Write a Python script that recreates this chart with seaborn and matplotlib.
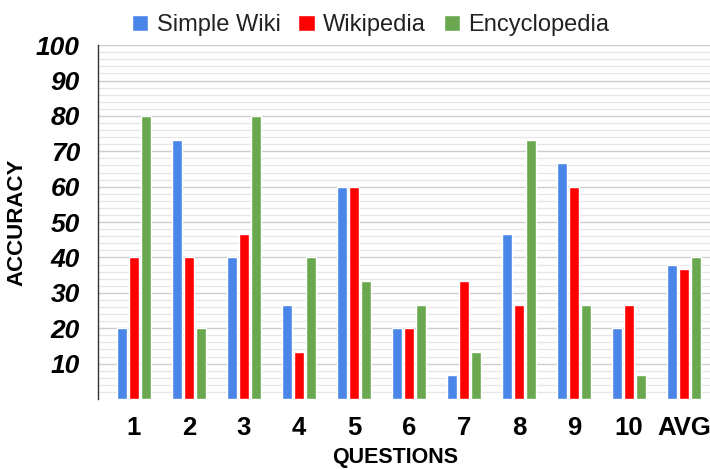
import matplotlib
matplotlib.use("Agg")
import matplotlib.pyplot as plt
from matplotlib.ticker import MultipleLocator
import seaborn as sns
import pandas as pd

# Accuracy per question for each source
questions = ["1", "2", "3", "4", "5", "6", "7", "8", "9", "10", "AVG"]
simple_wiki = [20, 73.3, 40, 26.7, 60, 20, 6.7, 46.7, 66.7, 20, 38.0]
wikipedia = [40, 40, 46.7, 13.3, 60, 20, 33.3, 26.7, 60, 26.7, 36.7]
encyclopedia = [80, 20, 80, 40, 33.3, 26.7, 13.3, 73.3, 26.7, 6.7, 40.0]
series_names = ["Simple Wiki", "Wikipedia", "Encyclopedia"]
colors = ["#4a86e8", "#ff0000", "#6aa84f"]

df = pd.DataFrame({
    "Question": questions * 3,
    "Accuracy": simple_wiki + wikipedia + encyclopedia,
    "Source": [s for s in series_names for _ in questions],
})

sns.set_theme(style="white")
plt.rcParams["font.family"] = ["Liberation Sans", "DejaVu Sans"]

fig = plt.figure(figsize=(7.1, 4.7), dpi=100)
ax = fig.add_axes([0.138, 0.151, 0.862, 0.753])

sns.barplot(data=df, x="Question", y="Accuracy", hue="Source",
            palette=colors, width=0.65, gap=0.2, ax=ax, legend=True,
            saturation=1)

ax.set_ylim(0, 100)
ax.set_xlim(-0.655, 10.47)
ax.yaxis.set_major_locator(MultipleLocator(10))
ax.yaxis.set_minor_locator(MultipleLocator(2))
ax.set_axisbelow(True)
ax.grid(which="minor", axis="y", color="#e6e6e6", linewidth=0.9)
ax.grid(which="major", axis="y", color="#cccccc", linewidth=1.0)

for side in ["top", "right", "bottom"]:
    ax.spines[side].set_visible(False)
ax.spines["left"].set_color("#333333")
ax.spines["left"].set_linewidth(1.0)

ax.set_yticks(range(10, 101, 10))
ax.tick_params(axis="y", which="major", direction="inout", length=10,
               width=1, color="#333333", pad=8)
ax.tick_params(axis="y", which="minor", length=0)
ax.tick_params(axis="x", length=0, pad=12)
for lbl in ax.get_yticklabels():
    lbl.set_fontsize(19)
    lbl.set_fontweight("bold")
    lbl.set_fontstyle("italic")
    lbl.set_color("black")
for lbl in ax.get_xticklabels():
    lbl.set_fontsize(18.5)
    lbl.set_fontweight("bold")
    lbl.set_color("black")

ax.set_xlabel("QUESTIONS", fontsize=15.5, fontweight="bold", color="black")
ax.xaxis.set_label_coords(0.485, -0.136)
ax.set_ylabel("ACCURACY", fontsize=16, fontweight="bold", color="black", labelpad=6)

handles, labels = ax.get_legend_handles_labels()
ax.get_legend().remove()
fig.legend(handles, labels, loc="upper center", bbox_to_anchor=(0.522, 1.015),
           ncol=3, frameon=False, fontsize=17, handlelength=0.7,
           handleheight=0.7, handletextpad=0.35, columnspacing=0.75,
           labelcolor="#222222")

fig.savefig("out.png", dpi=100)
